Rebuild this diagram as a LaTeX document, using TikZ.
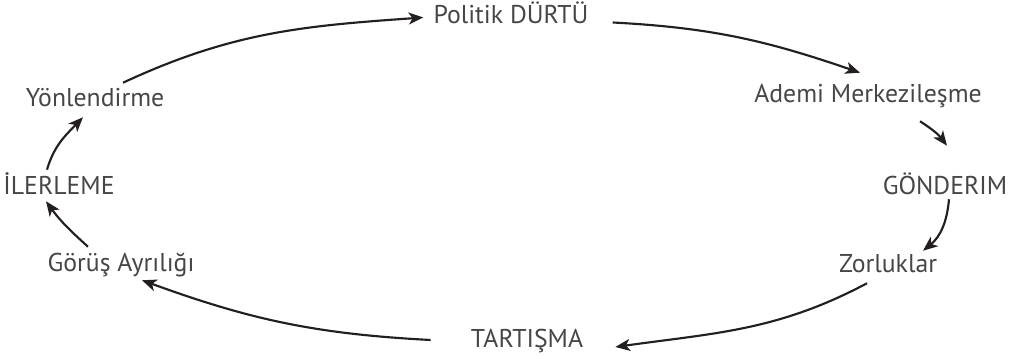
\documentclass[tikz,border=0pt]{standalone}
\usepackage{fontspec}
\setmainfont{PT Sans}
\usetikzlibrary{arrows.meta,calc}
\definecolor{wordgray}{RGB}{70,70,70}
\definecolor{arrowblack}{RGB}{35,31,32}

\begin{document}
\begin{tikzpicture}[x=0.75pt, y=0.75pt,
  word/.style = {anchor=base, inner sep=0pt, text height=13.5pt, text depth=3.75pt, text=wordgray, font=\fontsize{19.3}{21}\selectfont},
  arr/.style = {draw=arrowblack, line width=1.6pt, -{Stealth[length=11pt, width=9pt, inset=3pt]}}]
  \useasboundingbox (0,0) rectangle (1014,359);
  % the words round the cycle
  \node[word] (pol) at (511,335) {Politik DÜRTÜ};
  \node[word] (adm) at (868,256) {Ademi Merkezileşme};
  \node[word] (gon) at (945,164) {GÖNDERIM};
  \node[word] (zor) at (888,86)  {Zorluklar};
  \node[word] (tar) at (527,11)  {TARTIŞMA};
  \node[word] (gor) at (121,87)  {Görüş Ayrılığı};
  \node[word] (ile) at (59,164)  {İLERLEME};
  \node[word] (yon) at (95,252)  {Yönlendirme};
  % arrows, clockwise
  \draw[arr] ($(yon.north)+(28,6)$) to[out=25, in=184] ($(pol.west)+(-10,0)$);
  \draw[arr] ($(pol.east)+(24,-5)$) to[out=-3, in=161] ($(adm.north)+(-8,12)$);
  \draw[arr] ($(adm.south)+(52,-13)$) to[out=-33, in=127] ($(gon.north)+(2,31)$);
  \draw[arr] ($(gon.south)+(4,1)$) to[out=-95, in=39] ($(zor.north)+(35,4)$);
  \draw[arr] ($(zor.south)+(-21,-5)$) to[out=208, in=8] ($(tar.east)+(32,-5.5)$);
  \draw[arr] ($(tar.west)+(-40,1.5)$) to[out=177, in=-20] ($(gor.south)+(21,-3)$);
  \draw[arr] ($(gor.north)+(-33,7)$) to[out=138, in=-54] ($(ile.south)+(-13,-1)$);
  \draw[arr] ($(ile.north)+(-12,7)$) to[out=74, in=-134] ($(yon.south)+(-12,-5)$);
\end{tikzpicture}
\end{document}
